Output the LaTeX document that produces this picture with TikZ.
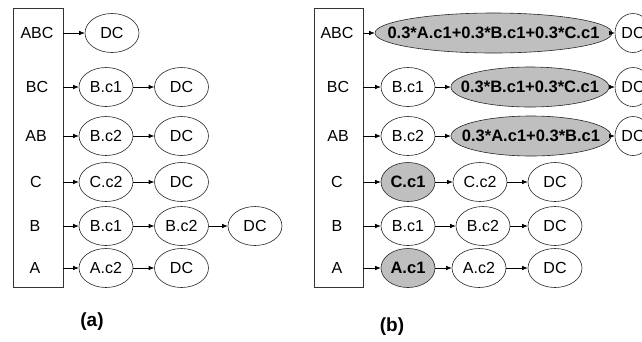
\documentclass[tikz,border=0pt]{standalone}
\usepackage{fontspec}
\setmainfont{Liberation Sans}
\usetikzlibrary{shapes.geometric,arrows.meta}
\begin{document}
\begin{tikzpicture}[x=1pt,y=-1pt,
  el/.style={ellipse, draw=black!85, line width=0.6pt, minimum width=54pt, minimum height=39pt, inner sep=0pt, font=\fontsize{16}{19}\selectfont},
  gel/.style={el, fill=black!25, font=\fontsize{16.5}{19}\selectfont\bfseries},
  lbl/.style={font=\fontsize{16}{19}\selectfont, inner sep=0pt},
  boxr/.style={draw=black!80, line width=0.7pt, inner sep=0pt, minimum height=279pt},
  arr/.style={-{Latex[length=5.5pt,width=4.5pt]}, line width=0.6pt},
  captxt/.style={font=\fontsize{19}{22}\selectfont\bfseries, inner sep=0pt}
]
\clip (0,0) rectangle (642,341);
% ---------- (a)
\node[boxr, minimum width=50pt] (ra) at (38,147.5) {};
\node[lbl] (la1) at (37,33) {ABC};
\node[lbl] (la2) at (37,87) {BC};
\node[lbl] (la3) at (36,136) {AB};
\node[lbl] (la4) at (36,182) {C};
\node[lbl] (la5) at (35,226) {B};
\node[lbl] (la6) at (35,268) {A};

\node[el] (a11) at (112,33) {DC};
\node[el] (a21) at (106,87) {B.c1};
\node[el] (a22) at (181.5,87) {DC};
\node[el] (a31) at (106,136) {B.c2};
\node[el] (a32) at (181.5,136) {DC};
\node[el] (a41) at (106,182) {C.c2};
\node[el] (a42) at (181.5,182) {DC};
\node[el] (a51) at (106,226) {B.c1};
\node[el] (a52) at (181.5,226) {B.c2};
\node[el] (a53) at (255,226) {DC};
\node[el] (a61) at (106,268) {A.c2};
\node[el] (a62) at (181.5,268) {DC};

\draw[arr] (ra.east |- a11) -- (a11);
\draw[arr] (ra.east |- a21) -- (a21);
\draw[arr] (a21) -- (a22);
\draw[arr] (ra.east |- a31) -- (a31);
\draw[arr] (a31) -- (a32);
\draw[arr] (ra.east |- a41) -- (a41);
\draw[arr] (a41) -- (a42);
\draw[arr] (ra.east |- a51) -- (a51);
\draw[arr] (a51) -- (a52);
\draw[arr] (a52) -- (a53);
\draw[arr] (ra.east |- a61) -- (a61);
\draw[arr] (a61) -- (a62);

\node[captxt] (capa) at (92,322) {(a)};

% ---------- (b)
\node[boxr, minimum width=49pt] (rb) at (338.5,147.5) {};
\node[lbl] (lb1) at (337,33) {ABC};
\node[lbl] (lb2) at (338,87) {BC};
\node[lbl] (lb3) at (338,136) {AB};
\node[lbl] (lb4) at (337,182) {C};
\node[lbl] (lb5) at (337,226) {B};
\node[lbl] (lb6) at (337,268) {A};

\node[gel, minimum width=237pt, minimum height=40pt] (b11) at (493.5,33) {\makebox[0pt]{0.3*A.c1+0.3*B.c1+0.3*C.c1}};
\node[el, minimum width=36pt] (b12) at (633,33) {DC};
\node[el] (b21) at (408,87) {B.c1};
\node[gel, minimum width=158pt, minimum height=40pt] (b22) at (530,87) {\makebox[0pt]{0.3*B.c1+0.3*C.c1}};
\node[el, minimum width=36pt] (b23) at (633,87) {DC};
\node[el] (b31) at (408,136) {B.c2};
\node[gel, minimum width=160pt, minimum height=40pt] (b32) at (531,136) {\makebox[0pt]{0.3*A.c1+0.3*B.c1}};
\node[el, minimum width=36pt] (b33) at (633,136) {DC};
\node[gel] (b41) at (408,182) {C.c1};
\node[el] (b42) at (480,182) {C.c2};
\node[el] (b43) at (555,182) {DC};
\node[el] (b51) at (408,226) {B.c1};
\node[el] (b52) at (483,226) {B.c2};
\node[el] (b53) at (555,226) {DC};
\node[gel] (b61) at (408,268) {A.c1};
\node[el] (b62) at (479,268) {A.c2};
\node[el] (b63) at (555,268) {DC};

\draw[arr] (rb.east |- b11) -- (b11);
\draw[arr] (b11) -- (b12);
\draw[arr] (rb.east |- b21) -- (b21);
\draw[arr] (b21) -- (b22);
\draw[arr] (b22) -- (b23);
\draw[arr] (rb.east |- b31) -- (b31);
\draw[arr] (b31) -- (b32);
\draw[arr] (b32) -- (b33);
\draw[arr] (rb.east |- b41) -- (b41);
\draw[arr] (b41) -- (b42);
\draw[arr] (b42) -- (b43);
\draw[arr] (rb.east |- b51) -- (b51);
\draw[arr] (b51) -- (b52);
\draw[arr] (b52) -- (b53);
\draw[arr] (rb.east |- b61) -- (b61);
\draw[arr] (b61) -- (b62);
\draw[arr] (b62) -- (b63);

\node[captxt] (capb) at (392,327) {(b)};
\end{tikzpicture}
\end{document}
